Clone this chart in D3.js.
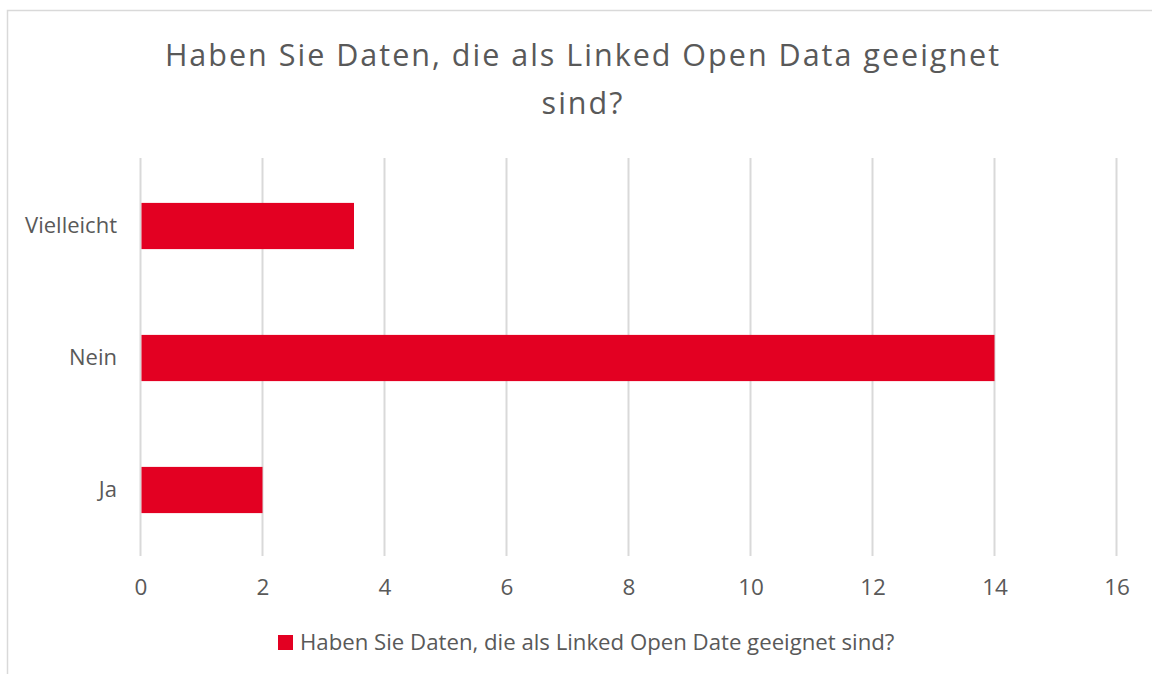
<!DOCTYPE html>
<meta charset="utf-8">
<style>
  body { margin: 0; background: #fff; }
  text { font-family: "Open Sans", "Lato", sans-serif; fill: #595959; }
  .grid line { stroke: #d9d9d9; stroke-width: 2; }
</style>
<body>
<svg width="1152" height="674"></svg>
<script src="https://d3js.org/d3.v7.min.js"></script>
<script>

var categories = ["Vielleicht", "Nein", "Ja"];
var values = [3.5, 14, 2];
var ticks = [0, 2, 4, 6, 8, 10, 12, 14, 16];
var titleLines = ["Haben Sie Daten, die als Linked Open Data geeignet", "sind?"];
var seriesName = "Haben Sie Daten, die als Linked Open Date geeignet sind?";

var svg = d3.select("svg");
var red = "#e30022";

// chart frame (runs past the right and bottom edge of the picture)
svg.append("rect")
    .attr("x", 7.5).attr("y", 10.5)
    .attr("width", 1160).attr("height", 700)
    .attr("fill", "#fff")
    .attr("stroke", "#d9d9d9")
    .attr("stroke-width", 1.5);

var x = d3.scaleLinear()
    .domain([0, 16])
    .range([140.5, 1116.5]);

var y = d3.scaleBand()
    .domain(categories)
    .range([160, 556])
    .paddingInner(0.65)
    .paddingOuter(0.325);

// gridlines
svg.append("g")
    .attr("class", "grid")
    .selectAll("line")
    .data(ticks)
    .enter().append("line")
    .attr("x1", function(d) { return x(d); })
    .attr("x2", function(d) { return x(d); })
    .attr("y1", 158)
    .attr("y2", 556);

// bars
svg.append("g")
    .selectAll("rect")
    .data(values)
    .enter().append("rect")
    .attr("x", x(0) + 1)
    .attr("y", function(d, i) { return y(categories[i]); })
    .attr("width", function(d) { return x(d) - x(0) - 1; })
    .attr("height", y.bandwidth())
    .attr("fill", red);

// x axis labels
var xAxis = svg.append("g")
    .attr("transform", "translate(0,556)")
    .call(d3.axisBottom(x).tickValues(ticks).tickSize(0).tickPadding(23));
xAxis.select(".domain").remove();
xAxis.selectAll("text")
    .style("font-family", "'Open Sans', sans-serif")
    .style("font-size", "22.5px")
    .attr("fill", "#595959");

// category labels
var yAxis = svg.append("g")
    .attr("transform", "translate(140,0)")
    .call(d3.axisLeft(y).tickSize(0).tickPadding(23));
yAxis.select(".domain").remove();
yAxis.selectAll("text")
    .style("font-family", "'Open Sans', sans-serif")
    .style("font-size", "22px")
    .attr("fill", "#595959");

// title
svg.append("g")
    .selectAll("text")
    .data(titleLines)
    .enter().append("text")
    .attr("x", 583)
    .attr("y", function(d, i) { return 66 + i * 48; })
    .attr("text-anchor", "middle")
    .style("font-size", "30.5px")
    .style("letter-spacing", "2px")
    .text(function(d) { return d; });

// legend
svg.append("rect")
    .attr("x", 278).attr("y", 635)
    .attr("width", 15).attr("height", 15)
    .attr("fill", red);
svg.append("text")
    .attr("x", 300)
    .attr("y", 650)
    .style("font-size", "22.2px")
    .text(seriesName);

</script>
</body>
